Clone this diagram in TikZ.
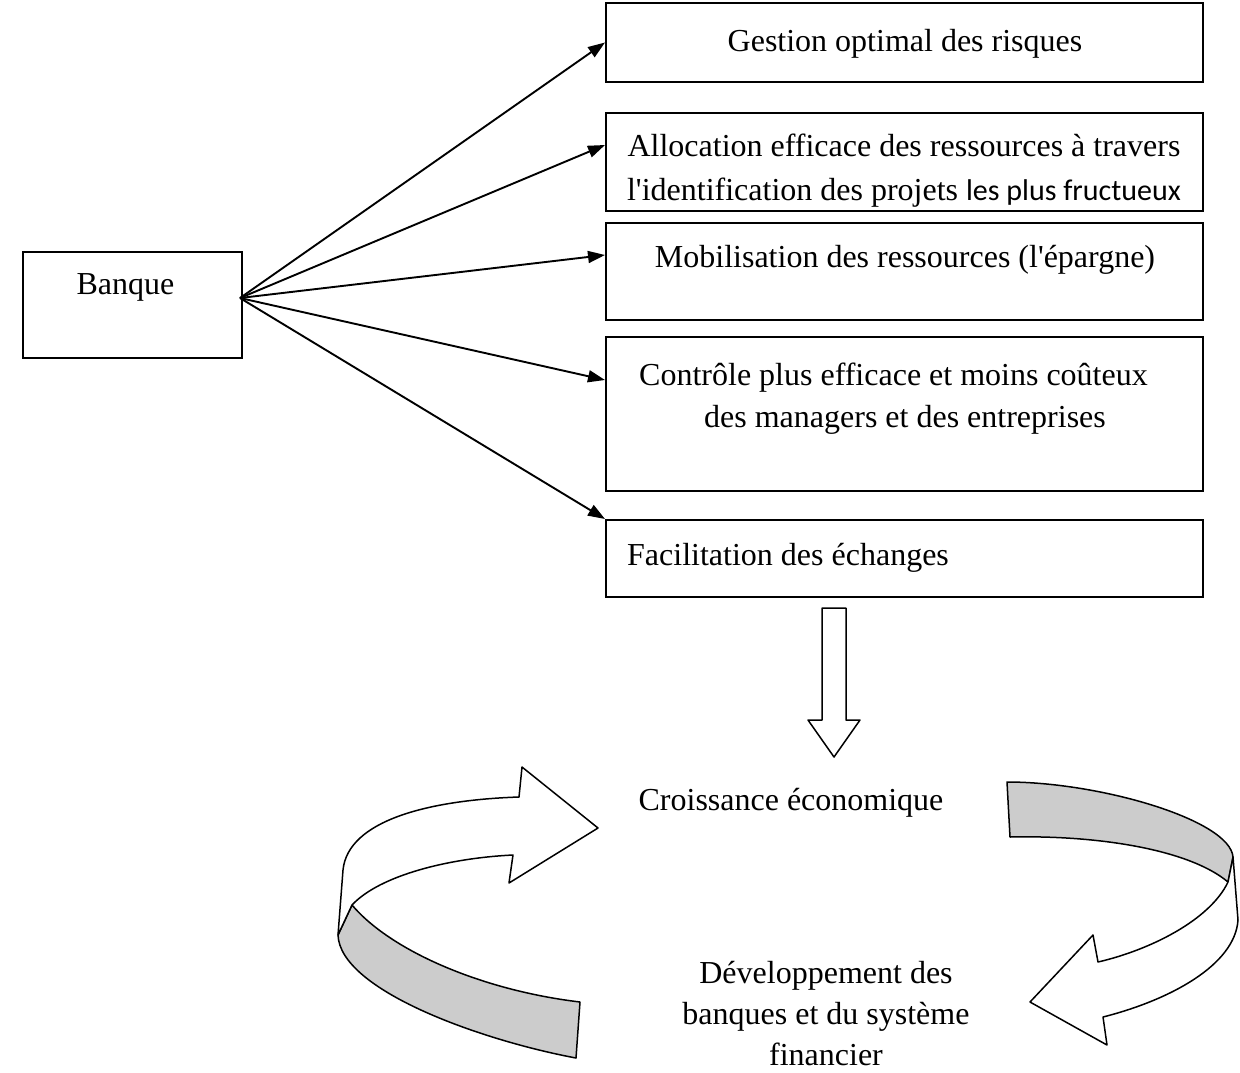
\documentclass[tikz,border=0pt]{standalone}
\usepackage{fontspec}
\setmainfont{Liberation Serif}[Ligatures=TeXOff]
\newfontfamily\calibrifont{Carlito}[Ligatures=TeXOff]
\usetikzlibrary{arrows.meta}
\usetikzlibrary{calc}
\usetikzlibrary{positioning}

\begin{document}
\begin{tikzpicture}[x=1pt,y=-1pt,
    box/.style={draw, line width=2pt, minimum width=597pt, inner sep=0pt},
    txt/.style={font=\fontsize{32}{41}\selectfont, inner sep=0pt, anchor=base},
    fleche/.style={line width=1.9pt, -{Triangle[length=17pt,width=12pt]}},
    ruban/.style={draw, line width=1.5pt, line join=round}]

      \useasboundingbox[fill=white] (0,0) rectangle (1240,1072);

      % Banque
      \node[box, minimum width=219pt, minimum height=106pt] (banque) at (132.5,305) {};
      \node[txt] (banquetxt) at (125.5,294) {Banque};
      \coordinate (depart) at (240,298);

      % Roles de la banque
      \node[box, minimum height=79pt] (gestion) at (904.5,42.5) {};
      \node[box, minimum height=98pt] (allocation) at (904.5,162) {};
      \node[box, minimum height=97pt] (mobilisation) at (904.5,271.5) {};
      \node[box, minimum height=154pt] (controle) at (904.5,414) {};
      \node[box, minimum height=77pt] (facilitation) at (904.5,558.5) {};

      \node[txt] (gestiontxt) at (905,51) {Gestion optimal des risques};
      \node[txt] (allocationa) at (904,156) {Allocation efficace des ressources à travers};
      \begin{scope}
        \clip (allocation.north west) rectangle ([yshift=3pt]allocation.south east);
        \node[txt] (allocationb) at (904,200) {l'identification des projets {\calibrifont\fontsize{30}{41}\selectfont les plus fructueux}};
      \end{scope}
      \node[txt] (mobilisationtxt) at (905,267) {Mobilisation des ressources (l'épargne)};
      \node[txt] (controlea) at (893.5,385) {Contrôle plus efficace et moins coûteux};
      \node[txt] (controleb) at (905,427) {des managers et des entreprises};
      \node[txt, anchor=base west] (facilitationtxt) at (627,565) {Facilitation des échanges};

      % Arrows
      \draw[fleche] (depart) -- (gestion.west);
      \draw[fleche] (depart) -- ([yshift=17pt]allocation.west);
      \draw[fleche] (depart) -- ([yshift=16.5pt]mobilisation.west);
      \draw[fleche] (depart) -- ([yshift=34pt]controle.west);
      \draw[fleche] (depart) -- (facilitation.north west);

      % Block arrow
      \draw[ruban] (822,608) -- (846,608) -- (846,720) -- (860,720) -- (834,757)
        -- (808,720) -- (822,720) -- cycle;

      % Cycle
      \node[txt] (croissance) at (791,810) {Croissance économique};
      \node[txt] (deva) at (826,983) {Développement des};
      \node[txt] (devb) at (826,1024) {banques et du système};
      \node[txt] (devc) at (826,1065) {financier};

      % left ribbon
      \draw[ruban, fill=gray!40] (352,905) .. controls (390,950) and (480,990) .. (580,1002)
        -- (576,1058) .. controls (480,1040) and (340,990) .. (338,935) -- cycle;
      \draw[ruban, fill=white] (338,935) -- (343,870) .. controls (348,820) and (430,800) .. (519,797)
        -- (522,767) -- (598,828) -- (509,883) -- (513,855)
        .. controls (450,858) and (380,875) .. (352,905) -- cycle;

      % right ribbon
      \draw[ruban, fill=gray!40] (1007,782) .. controls (1100,782) and (1230,820) .. (1233,857)
        -- (1228,882) .. controls (1190,850) and (1100,835) .. (1010,837) -- cycle;
      \draw[ruban, fill=white] (1233,857) -- (1238,920) .. controls (1235,965) and (1170,1000) .. (1103,1017)
        -- (1107,1045) -- (1030,1002) -- (1093,935) -- (1098,962)
        .. controls (1150,950) and (1210,920) .. (1228,882) -- cycle;

\end{tikzpicture}
\end{document}
